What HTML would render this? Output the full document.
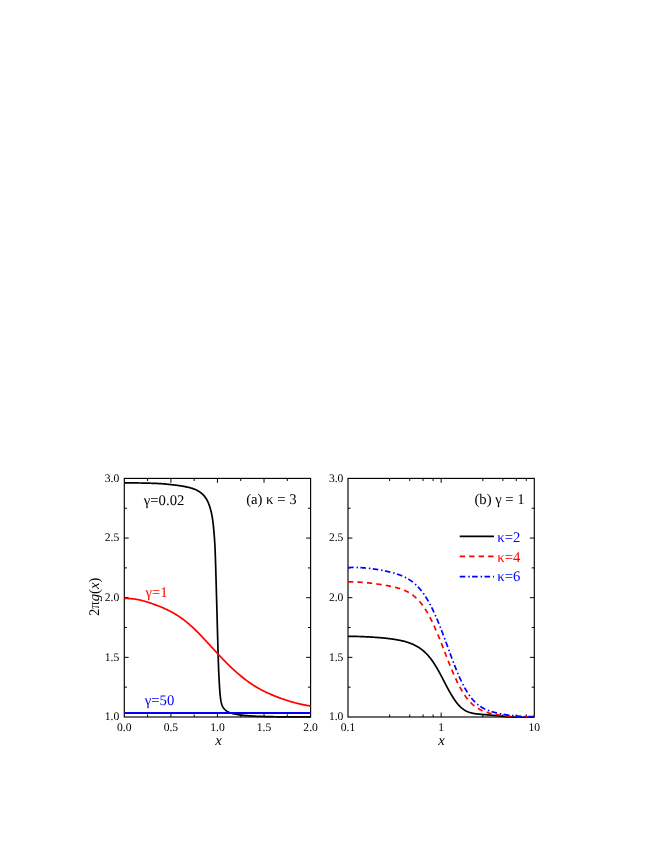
<!DOCTYPE html>
<html><head><meta charset="utf-8"><title>figure</title>
<style>
html,body{margin:0;padding:0;background:#fff;}
body{width:664px;height:860px;overflow:hidden;font-family:"Liberation Serif",serif;}
svg{display:block;will-change:transform;}
</style></head><body>
<svg width="664" height="860" viewBox="0 0 664 860">
<rect width="664" height="860" fill="#fff"/>
<defs><clipPath id="ca"><rect x="124.3" y="478.4" width="186.9" height="239.6"/></clipPath><clipPath id="cb"><rect x="348" y="478.4" width="186.9" height="239.6"/></clipPath></defs>
<g stroke="#000" fill="none" stroke-linecap="butt">
<rect x="124.3" y="478.4" width="186.3" height="238.6" stroke-width="1.15"/>
<line x1="124.3" y1="687.17" x2="126.9" y2="687.17" stroke-width="1.0"/>
<line x1="310.6" y1="687.17" x2="308" y2="687.17" stroke-width="1.0"/>
<line x1="124.3" y1="657.35" x2="128.7" y2="657.35" stroke-width="1.0"/>
<line x1="310.6" y1="657.35" x2="306.2" y2="657.35" stroke-width="1.0"/>
<line x1="124.3" y1="627.52" x2="126.9" y2="627.52" stroke-width="1.0"/>
<line x1="310.6" y1="627.52" x2="308" y2="627.52" stroke-width="1.0"/>
<line x1="124.3" y1="597.7" x2="128.7" y2="597.7" stroke-width="1.0"/>
<line x1="310.6" y1="597.7" x2="306.2" y2="597.7" stroke-width="1.0"/>
<line x1="124.3" y1="567.88" x2="126.9" y2="567.88" stroke-width="1.0"/>
<line x1="310.6" y1="567.88" x2="308" y2="567.88" stroke-width="1.0"/>
<line x1="124.3" y1="538.05" x2="128.7" y2="538.05" stroke-width="1.0"/>
<line x1="310.6" y1="538.05" x2="306.2" y2="538.05" stroke-width="1.0"/>
<line x1="124.3" y1="508.22" x2="126.9" y2="508.22" stroke-width="1.0"/>
<line x1="310.6" y1="508.22" x2="308" y2="508.22" stroke-width="1.0"/>
<rect x="348" y="478.4" width="186.3" height="238.6" stroke-width="1.15"/>
<line x1="348" y1="687.17" x2="350.6" y2="687.17" stroke-width="1.0"/>
<line x1="534.3" y1="687.17" x2="531.7" y2="687.17" stroke-width="1.0"/>
<line x1="348" y1="657.35" x2="352.4" y2="657.35" stroke-width="1.0"/>
<line x1="534.3" y1="657.35" x2="529.9" y2="657.35" stroke-width="1.0"/>
<line x1="348" y1="627.52" x2="350.6" y2="627.52" stroke-width="1.0"/>
<line x1="534.3" y1="627.52" x2="531.7" y2="627.52" stroke-width="1.0"/>
<line x1="348" y1="597.7" x2="352.4" y2="597.7" stroke-width="1.0"/>
<line x1="534.3" y1="597.7" x2="529.9" y2="597.7" stroke-width="1.0"/>
<line x1="348" y1="567.88" x2="350.6" y2="567.88" stroke-width="1.0"/>
<line x1="534.3" y1="567.88" x2="531.7" y2="567.88" stroke-width="1.0"/>
<line x1="348" y1="538.05" x2="352.4" y2="538.05" stroke-width="1.0"/>
<line x1="534.3" y1="538.05" x2="529.9" y2="538.05" stroke-width="1.0"/>
<line x1="348" y1="508.22" x2="350.6" y2="508.22" stroke-width="1.0"/>
<line x1="534.3" y1="508.22" x2="531.7" y2="508.22" stroke-width="1.0"/>
<line x1="147.59" y1="717" x2="147.59" y2="714.4" stroke-width="1.0"/>
<line x1="147.59" y1="478.4" x2="147.59" y2="481" stroke-width="1.0"/>
<line x1="170.88" y1="717" x2="170.88" y2="712.6" stroke-width="1.0"/>
<line x1="170.88" y1="478.4" x2="170.88" y2="482.8" stroke-width="1.0"/>
<line x1="194.16" y1="717" x2="194.16" y2="714.4" stroke-width="1.0"/>
<line x1="194.16" y1="478.4" x2="194.16" y2="481" stroke-width="1.0"/>
<line x1="217.45" y1="717" x2="217.45" y2="712.6" stroke-width="1.0"/>
<line x1="217.45" y1="478.4" x2="217.45" y2="482.8" stroke-width="1.0"/>
<line x1="240.74" y1="717" x2="240.74" y2="714.4" stroke-width="1.0"/>
<line x1="240.74" y1="478.4" x2="240.74" y2="481" stroke-width="1.0"/>
<line x1="264.03" y1="717" x2="264.03" y2="712.6" stroke-width="1.0"/>
<line x1="264.03" y1="478.4" x2="264.03" y2="482.8" stroke-width="1.0"/>
<line x1="287.31" y1="717" x2="287.31" y2="714.4" stroke-width="1.0"/>
<line x1="287.31" y1="478.4" x2="287.31" y2="481" stroke-width="1.0"/>
<line x1="389.65" y1="717" x2="389.65" y2="714.4" stroke-width="1.0"/>
<line x1="389.65" y1="478.4" x2="389.65" y2="481" stroke-width="1.0"/>
<line x1="409.74" y1="717" x2="409.74" y2="714.4" stroke-width="1.0"/>
<line x1="409.74" y1="478.4" x2="409.74" y2="481" stroke-width="1.0"/>
<line x1="423.1" y1="717" x2="423.1" y2="714.4" stroke-width="1.0"/>
<line x1="423.1" y1="478.4" x2="423.1" y2="481" stroke-width="1.0"/>
<line x1="433.12" y1="717" x2="433.12" y2="714.4" stroke-width="1.0"/>
<line x1="433.12" y1="478.4" x2="433.12" y2="481" stroke-width="1.0"/>
<line x1="482.8" y1="717" x2="482.8" y2="714.4" stroke-width="1.0"/>
<line x1="482.8" y1="478.4" x2="482.8" y2="481" stroke-width="1.0"/>
<line x1="502.89" y1="717" x2="502.89" y2="714.4" stroke-width="1.0"/>
<line x1="502.89" y1="478.4" x2="502.89" y2="481" stroke-width="1.0"/>
<line x1="516.25" y1="717" x2="516.25" y2="714.4" stroke-width="1.0"/>
<line x1="516.25" y1="478.4" x2="516.25" y2="481" stroke-width="1.0"/>
<line x1="526.27" y1="717" x2="526.27" y2="714.4" stroke-width="1.0"/>
<line x1="526.27" y1="478.4" x2="526.27" y2="481" stroke-width="1.0"/>
<line x1="441.15" y1="717" x2="441.15" y2="712.6" stroke-width="1.0"/>
<line x1="441.15" y1="478.4" x2="441.15" y2="482.8" stroke-width="1.0"/>
</g>
<g fill="none" stroke-width="1.7" stroke-linejoin="round" clip-path="url(#ca)">
<path d="M124.3 482.8 L124.94 482.8 L125.59 482.81 L126.23 482.81 L126.88 482.81 L127.52 482.82 L128.17 482.82 L128.81 482.83 L129.46 482.84 L130.1 482.84 L130.75 482.85 L131.39 482.86 L132.04 482.87 L132.68 482.88 L133.33 482.89 L133.97 482.9 L134.61 482.91 L135.26 482.92 L135.9 482.93 L136.55 482.94 L137.19 482.95 L137.84 482.96 L138.48 482.97 L139.13 482.98 L139.77 483 L140.42 483.01 L141.06 483.02 L141.7 483.03 L142.35 483.05 L142.99 483.06 L143.64 483.07 L144.28 483.09 L144.93 483.1 L145.57 483.11 L146.22 483.13 L146.86 483.14 L147.5 483.16 L148.15 483.17 L148.79 483.19 L149.44 483.2 L150.08 483.22 L150.73 483.24 L151.37 483.26 L152.02 483.28 L152.66 483.3 L153.31 483.32 L153.95 483.34 L154.6 483.37 L155.24 483.39 L155.88 483.42 L156.53 483.44 L157.17 483.47 L157.82 483.5 L158.46 483.53 L159.1 483.56 L159.75 483.59 L160.39 483.62 L161.03 483.66 L161.67 483.7 L162.32 483.75 L162.96 483.8 L163.6 483.85 L164.24 483.91 L164.89 483.97 L165.53 484.03 L166.17 484.1 L166.81 484.17 L167.45 484.24 L168.1 484.31 L168.74 484.38 L169.38 484.45 L170.02 484.52 L170.66 484.59 L171.3 484.66 L171.94 484.73 L172.58 484.81 L173.22 484.88 L173.86 484.95 L174.51 485.03 L175.15 485.11 L175.79 485.19 L176.43 485.27 L177.07 485.35 L177.71 485.44 L178.35 485.52 L178.99 485.61 L179.63 485.7 L180.27 485.8 L180.91 485.9 L181.54 486 L182.18 486.1 L182.81 486.21 L183.45 486.31 L184.08 486.43 L184.71 486.54 L185.34 486.67 L185.97 486.79 L186.6 486.92 L187.23 487.06 L187.87 487.21 L188.5 487.36 L189.13 487.52 L189.76 487.69 L190.39 487.86 L191.02 488.04 L191.64 488.23 L192.25 488.42 L192.87 488.62 L193.47 488.83 L194.07 489.05 L194.66 489.27 L195.25 489.5 L195.83 489.75 L196.42 490.03 L197 490.32 L197.58 490.63 L198.15 490.96 L198.71 491.3 L199.26 491.65 L199.8 492.02 L200.33 492.39 L200.84 492.77 L201.33 493.16 L201.81 493.57 L202.29 493.99 L202.76 494.44 L203.22 494.9 L203.68 495.38 L204.12 495.87 L204.55 496.38 L204.96 496.89 L205.35 497.41 L205.72 497.93 L206.07 498.46 L206.4 498.99 L206.71 499.54 L207.01 500.09 L207.31 500.66 L207.6 501.24 L207.87 501.82 L208.14 502.42 L208.4 503.02 L208.65 503.63 L208.89 504.24 L209.12 504.85 L209.34 505.47 L209.55 506.08 L209.75 506.7 L209.94 507.31 L210.12 507.92 L210.3 508.53 L210.47 509.15 L210.64 509.77 L210.8 510.4 L210.96 511.02 L211.12 511.65 L211.27 512.28 L211.41 512.91 L211.55 513.54 L211.68 514.18 L211.81 514.81 L211.94 515.45 L212.06 516.09 L212.17 516.72 L212.28 517.36 L212.38 517.99 L212.48 518.63 L212.58 519.27 L212.67 519.9 L212.75 520.54 L212.84 521.18 L212.92 521.81 L213 522.45 L213.08 523.09 L213.15 523.73 L213.23 524.38 L213.3 525.02 L213.37 525.66 L213.43 526.3 L213.5 526.94 L213.56 527.59 L213.62 528.23 L213.68 528.87 L213.74 529.52 L213.8 530.16 L213.86 530.8 L213.91 531.44 L213.97 532.09 L214.02 532.73 L214.07 533.37 L214.12 534.01 L214.17 534.65 L214.22 535.3 L214.27 535.94 L214.32 536.58 L214.37 537.23 L214.42 537.87 L214.46 538.51 L214.51 539.16 L214.55 539.8 L214.6 540.44 L214.64 541.09 L214.68 541.73 L214.72 542.37 L214.76 543.02 L214.8 543.66 L214.83 544.3 L214.87 544.95 L214.9 545.59 L214.94 546.23 L214.97 546.88 L215 547.52 L215.03 548.17 L215.06 548.81 L215.09 549.45 L215.12 550.1 L215.14 550.74 L215.17 551.39 L215.19 552.03 L215.22 552.67 L215.24 553.32 L215.26 553.96 L215.28 554.61 L215.31 555.25 L215.33 555.9 L215.35 556.54 L215.37 557.18 L215.39 557.83 L215.42 558.47 L215.44 559.12 L215.46 559.76 L215.48 560.41 L215.5 561.05 L215.52 561.69 L215.54 562.34 L215.56 562.98 L215.58 563.63 L215.6 564.27 L215.63 564.92 L215.65 565.56 L215.67 566.21 L215.69 566.85 L215.7 567.49 L215.72 568.14 L215.74 568.78 L215.76 569.43 L215.78 570.07 L215.8 570.72 L215.82 571.36 L215.84 572 L215.86 572.65 L215.88 573.29 L215.9 573.94 L215.91 574.58 L215.93 575.23 L215.95 575.87 L215.97 576.51 L215.99 577.16 L216.01 577.8 L216.02 578.45 L216.04 579.09 L216.06 579.74 L216.08 580.38 L216.1 581.03 L216.11 581.67 L216.13 582.31 L216.15 582.96 L216.17 583.6 L216.19 584.25 L216.2 584.89 L216.22 585.54 L216.24 586.18 L216.26 586.83 L216.28 587.47 L216.29 588.11 L216.31 588.76 L216.33 589.4 L216.35 590.05 L216.36 590.69 L216.38 591.34 L216.4 591.98 L216.42 592.63 L216.44 593.27 L216.46 593.91 L216.47 594.56 L216.49 595.2 L216.51 595.85 L216.53 596.49 L216.55 597.14 L216.56 597.78 L216.58 598.42 L216.6 599.07 L216.62 599.71 L216.64 600.36 L216.65 601 L216.67 601.65 L216.69 602.29 L216.71 602.94 L216.73 603.58 L216.74 604.22 L216.76 604.87 L216.78 605.51 L216.8 606.16 L216.81 606.8 L216.83 607.45 L216.85 608.09 L216.87 608.73 L216.88 609.38 L216.9 610.02 L216.92 610.67 L216.94 611.31 L216.95 611.96 L216.97 612.6 L216.99 613.25 L217.01 613.89 L217.02 614.53 L217.04 615.18 L217.06 615.82 L217.07 616.47 L217.09 617.11 L217.11 617.76 L217.13 618.4 L217.14 619.05 L217.16 619.69 L217.18 620.33 L217.2 620.98 L217.21 621.62 L217.23 622.27 L217.25 622.91 L217.27 623.56 L217.28 624.2 L217.3 624.85 L217.32 625.49 L217.34 626.13 L217.35 626.78 L217.37 627.42 L217.39 628.07 L217.41 628.71 L217.42 629.36 L217.44 630 L217.46 630.64 L217.48 631.29 L217.49 631.93 L217.51 632.58 L217.53 633.22 L217.55 633.87 L217.57 634.51 L217.58 635.16 L217.6 635.8 L217.62 636.44 L217.64 637.09 L217.66 637.73 L217.67 638.38 L217.69 639.02 L217.71 639.67 L217.73 640.31 L217.75 640.96 L217.77 641.6 L217.79 642.24 L217.8 642.89 L217.82 643.53 L217.84 644.18 L217.86 644.82 L217.88 645.47 L217.89 646.11 L217.91 646.75 L217.93 647.4 L217.95 648.04 L217.96 648.69 L217.98 649.33 L218 649.98 L218.02 650.62 L218.04 651.27 L218.05 651.91 L218.07 652.55 L218.09 653.2 L218.11 653.84 L218.13 654.49 L218.15 655.13 L218.16 655.78 L218.18 656.42 L218.2 657.07 L218.22 657.71 L218.24 658.35 L218.26 659 L218.28 659.64 L218.3 660.29 L218.32 660.93 L218.34 661.58 L218.37 662.22 L218.39 662.86 L218.41 663.51 L218.43 664.15 L218.46 664.8 L218.48 665.44 L218.5 666.09 L218.53 666.73 L218.55 667.37 L218.58 668.02 L218.6 668.66 L218.63 669.31 L218.65 669.95 L218.68 670.59 L218.71 671.24 L218.74 671.88 L218.76 672.53 L218.79 673.17 L218.82 673.81 L218.85 674.46 L218.88 675.1 L218.91 675.75 L218.94 676.39 L218.97 677.03 L219.01 677.68 L219.04 678.32 L219.07 678.97 L219.11 679.61 L219.14 680.25 L219.18 680.9 L219.21 681.54 L219.25 682.18 L219.29 682.83 L219.32 683.47 L219.36 684.12 L219.4 684.76 L219.44 685.4 L219.48 686.05 L219.52 686.69 L219.56 687.33 L219.6 687.98 L219.64 688.62 L219.69 689.27 L219.73 689.91 L219.78 690.56 L219.83 691.2 L219.88 691.84 L219.93 692.49 L219.98 693.13 L220.04 693.77 L220.1 694.41 L220.16 695.05 L220.23 695.69 L220.29 696.33 L220.37 696.97 L220.44 697.61 L220.53 698.25 L220.62 698.89 L220.72 699.54 L220.82 700.19 L220.94 700.83 L221.06 701.47 L221.2 702.11 L221.34 702.74 L221.5 703.36 L221.67 703.97 L221.84 704.57 L222.04 705.16 L222.28 705.76 L222.57 706.36 L222.88 706.95 L223.22 707.52 L223.59 708.07 L223.97 708.58 L224.37 709.06 L224.78 709.51 L225.24 709.95 L225.74 710.38 L226.26 710.79 L226.81 711.17 L227.37 711.53 L227.94 711.85 L228.51 712.14 L229.08 712.39 L229.67 712.63 L230.26 712.85 L230.88 713.06 L231.5 713.25 L232.13 713.43 L232.76 713.6 L233.4 713.76 L234.03 713.9 L234.67 714.03 L235.3 714.16 L235.93 714.27 L236.56 714.38 L237.19 714.49 L237.83 714.6 L238.46 714.7 L239.1 714.79 L239.74 714.88 L240.38 714.97 L241.02 715.05 L241.67 715.13 L242.31 715.21 L242.95 715.28 L243.59 715.35 L244.24 715.42 L244.88 715.48 L245.52 715.54 L246.16 715.59 L246.8 715.65 L247.45 715.7 L248.09 715.75 L248.73 715.79 L249.37 715.84 L250.02 715.89 L250.66 715.93 L251.3 715.97 L251.95 716.02 L252.59 716.06 L253.23 716.09 L253.88 716.13 L254.52 716.17 L255.17 716.2 L255.81 716.23 L256.46 716.26 L257.1 716.29 L257.74 716.32 L258.39 716.34 L259.03 716.37 L259.68 716.39 L260.32 716.41 L260.97 716.43 L261.61 716.45 L262.25 716.47 L262.9 716.49 L263.54 716.5 L264.19 716.52 L264.83 716.54 L265.48 716.56 L266.12 716.57 L266.76 716.59 L267.41 716.6 L268.05 716.62 L268.7 716.63 L269.34 716.65 L269.99 716.66 L270.63 716.67 L271.28 716.69 L271.92 716.7 L272.57 716.71 L273.21 716.72 L273.86 716.73 L274.5 716.74 L275.14 716.75 L275.79 716.76 L276.43 716.77 L277.08 716.78 L277.72 716.78 L278.37 716.79 L279.01 716.79 L279.66 716.8 L280.3 716.8 L280.95 716.81 L281.59 716.81 L282.24 716.81 L282.88 716.82 L283.52 716.82 L284.17 716.82 L284.81 716.83 L285.46 716.83 L286.1 716.83 L286.75 716.84 L287.39 716.84 L288.04 716.84 L288.68 716.85 L289.33 716.85 L289.97 716.85 L290.62 716.85 L291.26 716.86 L291.9 716.86 L292.55 716.86 L293.19 716.86 L293.84 716.87 L294.48 716.87 L295.13 716.87 L295.77 716.87 L296.42 716.88 L297.06 716.88 L297.71 716.88 L298.35 716.88 L299 716.88 L299.64 716.89 L300.28 716.89 L300.93 716.89 L301.57 716.89 L302.22 716.89 L302.86 716.89 L303.51 716.89 L304.15 716.89 L304.8 716.9 L305.44 716.9 L306.09 716.9 L306.73 716.9 L307.38 716.9 L308.02 716.9 L308.67 716.9 L309.31 716.9 L309.96 716.9 L310.6 716.9" stroke="#000"/>
<path d="M124.3 598.58 L124.92 598.55 L125.55 598.52 L126.17 598.51 L126.79 598.5 L127.42 598.5 L128.04 598.51 L128.66 598.53 L129.28 598.55 L129.91 598.59 L130.53 598.62 L131.15 598.67 L131.78 598.72 L132.4 598.79 L133.02 598.85 L133.65 598.93 L134.27 599.01 L134.89 599.1 L135.52 599.19 L136.14 599.29 L136.76 599.4 L137.38 599.51 L138.01 599.63 L138.63 599.76 L139.25 599.89 L139.88 600.03 L140.5 600.17 L141.12 600.32 L141.75 600.47 L142.37 600.63 L142.99 600.79 L143.62 600.96 L144.24 601.13 L144.86 601.31 L145.48 601.49 L146.11 601.68 L146.73 601.87 L147.35 602.06 L147.98 602.26 L148.6 602.46 L149.22 602.67 L149.85 602.88 L150.47 603.09 L151.09 603.3 L151.72 603.52 L152.34 603.74 L152.96 603.96 L153.58 604.19 L154.21 604.41 L154.83 604.64 L155.45 604.87 L156.08 605.11 L156.7 605.34 L157.32 605.58 L157.95 605.82 L158.57 606.06 L159.19 606.3 L159.82 606.55 L160.44 606.8 L161.06 607.05 L161.68 607.31 L162.31 607.57 L162.93 607.83 L163.55 608.1 L164.18 608.37 L164.8 608.65 L165.42 608.93 L166.05 609.22 L166.67 609.51 L167.29 609.81 L167.92 610.11 L168.54 610.41 L169.16 610.73 L169.78 611.04 L170.41 611.37 L171.03 611.7 L171.65 612.03 L172.28 612.37 L172.9 612.72 L173.52 613.08 L174.15 613.44 L174.77 613.8 L175.39 614.18 L176.02 614.56 L176.64 614.94 L177.26 615.34 L177.88 615.74 L178.51 616.15 L179.13 616.56 L179.75 616.98 L180.38 617.41 L181 617.85 L181.62 618.29 L182.25 618.74 L182.87 619.2 L183.49 619.67 L184.12 620.14 L184.74 620.62 L185.36 621.11 L185.98 621.61 L186.61 622.11 L187.23 622.62 L187.85 623.14 L188.48 623.66 L189.1 624.19 L189.72 624.74 L190.35 625.28 L190.97 625.84 L191.59 626.4 L192.22 626.97 L192.84 627.55 L193.46 628.13 L194.08 628.72 L194.71 629.32 L195.33 629.92 L195.95 630.53 L196.58 631.15 L197.2 631.77 L197.82 632.39 L198.45 633.02 L199.07 633.66 L199.69 634.3 L200.32 634.94 L200.94 635.59 L201.56 636.24 L202.18 636.89 L202.81 637.55 L203.43 638.21 L204.05 638.88 L204.68 639.54 L205.3 640.21 L205.92 640.88 L206.55 641.56 L207.17 642.23 L207.79 642.91 L208.42 643.59 L209.04 644.26 L209.66 644.94 L210.28 645.62 L210.91 646.3 L211.53 646.98 L212.15 647.66 L212.78 648.34 L213.4 649.02 L214.02 649.7 L214.65 650.38 L215.27 651.06 L215.89 651.73 L216.52 652.41 L217.14 653.08 L217.76 653.75 L218.38 654.42 L219.01 655.09 L219.63 655.75 L220.25 656.41 L220.88 657.07 L221.5 657.73 L222.12 658.38 L222.75 659.03 L223.37 659.68 L223.99 660.32 L224.62 660.96 L225.24 661.6 L225.86 662.23 L226.48 662.85 L227.11 663.48 L227.73 664.1 L228.35 664.71 L228.98 665.32 L229.6 665.93 L230.22 666.53 L230.85 667.13 L231.47 667.72 L232.09 668.31 L232.72 668.89 L233.34 669.47 L233.96 670.04 L234.58 670.61 L235.21 671.17 L235.83 671.73 L236.45 672.28 L237.08 672.83 L237.7 673.37 L238.32 673.91 L238.95 674.44 L239.57 674.97 L240.19 675.49 L240.82 676 L241.44 676.51 L242.06 677.02 L242.68 677.52 L243.31 678.01 L243.93 678.5 L244.55 678.98 L245.18 679.46 L245.8 679.93 L246.42 680.39 L247.05 680.85 L247.67 681.31 L248.29 681.76 L248.92 682.2 L249.54 682.64 L250.16 683.07 L250.78 683.5 L251.41 683.92 L252.03 684.33 L252.65 684.74 L253.28 685.14 L253.9 685.54 L254.52 685.93 L255.15 686.32 L255.77 686.7 L256.39 687.07 L257.02 687.44 L257.64 687.81 L258.26 688.17 L258.88 688.52 L259.51 688.87 L260.13 689.21 L260.75 689.55 L261.38 689.89 L262 690.21 L262.62 690.54 L263.25 690.86 L263.87 691.17 L264.49 691.48 L265.12 691.79 L265.74 692.09 L266.36 692.39 L266.98 692.68 L267.61 692.97 L268.23 693.26 L268.85 693.54 L269.48 693.82 L270.1 694.09 L270.72 694.36 L271.35 694.63 L271.97 694.89 L272.59 695.15 L273.22 695.41 L273.84 695.66 L274.46 695.92 L275.08 696.16 L275.71 696.41 L276.33 696.65 L276.95 696.89 L277.58 697.13 L278.2 697.36 L278.82 697.6 L279.45 697.83 L280.07 698.05 L280.69 698.28 L281.32 698.5 L281.94 698.72 L282.56 698.94 L283.18 699.16 L283.81 699.37 L284.43 699.58 L285.05 699.79 L285.68 700 L286.3 700.21 L286.92 700.41 L287.55 700.61 L288.17 700.8 L288.79 701 L289.42 701.19 L290.04 701.38 L290.66 701.57 L291.28 701.75 L291.91 701.93 L292.53 702.11 L293.15 702.29 L293.78 702.46 L294.4 702.63 L295.02 702.8 L295.65 702.96 L296.27 703.12 L296.89 703.28 L297.52 703.44 L298.14 703.59 L298.76 703.74 L299.38 703.89 L300.01 704.03 L300.63 704.17 L301.25 704.31 L301.88 704.44 L302.5 704.57 L303.12 704.7 L303.75 704.83 L304.37 704.95 L304.99 705.07 L305.62 705.18 L306.24 705.29 L306.86 705.4 L307.48 705.5 L308.11 705.6 L308.73 705.7 L309.35 705.79 L309.98 705.89 L310.6 705.97" stroke="#ff0000"/>
<path d="M124.3 713.0 L310.6 713.0" stroke="#0000ff" stroke-width="1.9"/>
</g>
<g fill="none" stroke-width="1.7" stroke-linejoin="round" clip-path="url(#cb)">
<path d="M348 636.31 L348.47 636.31 L348.93 636.32 L349.4 636.32 L349.87 636.33 L350.33 636.33 L350.8 636.34 L351.27 636.34 L351.74 636.35 L352.2 636.35 L352.67 636.36 L353.14 636.37 L353.6 636.38 L354.07 636.39 L354.54 636.4 L355 636.41 L355.47 636.42 L355.94 636.43 L356.4 636.44 L356.87 636.45 L357.34 636.47 L357.81 636.48 L358.27 636.49 L358.74 636.51 L359.21 636.52 L359.67 636.54 L360.14 636.55 L360.61 636.57 L361.07 636.59 L361.54 636.6 L362.01 636.62 L362.47 636.64 L362.94 636.66 L363.41 636.68 L363.88 636.7 L364.34 636.72 L364.81 636.74 L365.28 636.76 L365.74 636.78 L366.21 636.81 L366.68 636.83 L367.14 636.85 L367.61 636.87 L368.08 636.9 L368.54 636.92 L369.01 636.95 L369.48 636.97 L369.95 637 L370.41 637.03 L370.88 637.05 L371.35 637.08 L371.81 637.11 L372.28 637.14 L372.75 637.17 L373.21 637.2 L373.68 637.23 L374.15 637.26 L374.61 637.29 L375.08 637.32 L375.55 637.36 L376.02 637.39 L376.48 637.42 L376.95 637.46 L377.42 637.49 L377.88 637.53 L378.35 637.57 L378.82 637.6 L379.28 637.64 L379.75 637.68 L380.22 637.72 L380.68 637.76 L381.15 637.8 L381.62 637.84 L382.08 637.88 L382.55 637.93 L383.02 637.97 L383.49 638.01 L383.95 638.06 L384.42 638.11 L384.89 638.15 L385.35 638.2 L385.82 638.25 L386.29 638.3 L386.75 638.35 L387.22 638.4 L387.69 638.46 L388.15 638.51 L388.62 638.57 L389.09 638.63 L389.56 638.68 L390.02 638.74 L390.49 638.8 L390.96 638.86 L391.42 638.93 L391.89 638.99 L392.36 639.06 L392.82 639.12 L393.29 639.19 L393.76 639.26 L394.22 639.34 L394.69 639.41 L395.16 639.48 L395.63 639.56 L396.09 639.64 L396.56 639.72 L397.03 639.8 L397.49 639.88 L397.96 639.97 L398.43 640.06 L398.89 640.15 L399.36 640.24 L399.83 640.33 L400.29 640.43 L400.76 640.53 L401.23 640.63 L401.7 640.73 L402.16 640.84 L402.63 640.95 L403.1 641.06 L403.56 641.18 L404.03 641.3 L404.5 641.42 L404.96 641.54 L405.43 641.67 L405.9 641.8 L406.36 641.94 L406.83 642.08 L407.3 642.22 L407.77 642.37 L408.23 642.52 L408.7 642.68 L409.17 642.84 L409.63 643 L410.1 643.18 L410.57 643.35 L411.03 643.53 L411.5 643.72 L411.97 643.91 L412.43 644.11 L412.9 644.31 L413.37 644.52 L413.84 644.74 L414.3 644.96 L414.77 645.19 L415.24 645.43 L415.7 645.67 L416.17 645.92 L416.64 646.18 L417.1 646.44 L417.57 646.72 L418.04 647 L418.5 647.29 L418.97 647.59 L419.44 647.89 L419.91 648.21 L420.37 648.53 L420.84 648.87 L421.31 649.21 L421.77 649.57 L422.24 649.93 L422.71 650.31 L423.17 650.69 L423.64 651.09 L424.11 651.5 L424.57 651.92 L425.04 652.35 L425.51 652.8 L425.98 653.26 L426.44 653.73 L426.91 654.22 L427.38 654.71 L427.84 655.23 L428.31 655.76 L428.78 656.3 L429.24 656.85 L429.71 657.42 L430.18 658.01 L430.64 658.61 L431.11 659.22 L431.58 659.85 L432.05 660.5 L432.51 661.15 L432.98 661.83 L433.45 662.52 L433.91 663.22 L434.38 663.94 L434.85 664.67 L435.31 665.41 L435.78 666.17 L436.25 666.94 L436.71 667.73 L437.18 668.53 L437.65 669.34 L438.12 670.16 L438.58 671 L439.05 671.84 L439.52 672.69 L439.98 673.56 L440.45 674.43 L440.92 675.31 L441.38 676.19 L441.85 677.08 L442.32 677.97 L442.78 678.87 L443.25 679.77 L443.72 680.67 L444.18 681.57 L444.65 682.47 L445.12 683.37 L445.59 684.27 L446.05 685.16 L446.52 686.05 L446.99 686.93 L447.45 687.81 L447.92 688.68 L448.39 689.54 L448.85 690.4 L449.32 691.24 L449.79 692.07 L450.25 692.89 L450.72 693.7 L451.19 694.5 L451.66 695.28 L452.12 696.05 L452.59 696.81 L453.06 697.55 L453.52 698.27 L453.99 698.98 L454.46 699.67 L454.92 700.34 L455.39 701 L455.86 701.63 L456.32 702.25 L456.79 702.85 L457.26 703.43 L457.73 703.99 L458.19 704.54 L458.66 705.06 L459.13 705.56 L459.59 706.04 L460.06 706.51 L460.53 706.95 L460.99 707.38 L461.46 707.79 L461.93 708.18 L462.39 708.56 L462.86 708.91 L463.33 709.25 L463.8 709.58 L464.26 709.89 L464.73 710.18 L465.2 710.46 L465.66 710.72 L466.13 710.97 L466.6 711.21 L467.06 711.43 L467.53 711.64 L468 711.84 L468.46 712.03 L468.93 712.2 L469.4 712.37 L469.87 712.52 L470.33 712.67 L470.8 712.8 L471.27 712.93 L471.73 713.05 L472.2 713.16 L472.67 713.26 L473.13 713.36 L473.6 713.45 L474.07 713.54 L474.53 713.61 L475 713.69 L475.47 713.76 L475.94 713.82 L476.4 713.88 L476.87 713.94 L477.34 713.99 L477.8 714.04 L478.27 714.09 L478.74 714.13 L479.2 714.18 L479.67 714.22 L480.14 714.26 L480.6 714.3 L481.07 714.34 L481.54 714.38 L482.01 714.42 L482.47 714.45 L482.94 714.49 L483.41 714.53 L483.87 714.57 L484.34 714.61 L484.81 714.64 L485.27 714.68 L485.74 714.72 L486.21 714.76 L486.67 714.79 L487.14 714.83 L487.61 714.87 L488.08 714.91 L488.54 714.95 L489.01 714.99 L489.48 715.03 L489.94 715.07 L490.41 715.11 L490.88 715.15 L491.34 715.19 L491.81 715.23 L492.28 715.28 L492.74 715.32 L493.21 715.36 L493.68 715.41 L494.15 715.45 L494.61 715.49 L495.08 715.54 L495.55 715.58 L496.01 715.63 L496.48 715.68 L496.95 715.72 L497.41 715.77 L497.88 715.82 L498.35 715.86 L498.81 715.91 L499.28 715.96 L499.75 716.01 L500.22 716.05 L500.68 716.1 L501.15 716.15 L501.62 716.2 L502.08 716.25 L502.55 716.29 L503.02 716.34 L503.48 716.39 L503.95 716.44 L504.42 716.48 L504.88 716.53 L505.35 716.58 L505.82 716.62 L506.28 716.67 L506.75 716.71 L507.22 716.76 L507.69 716.8 L508.15 716.85 L508.62 716.89 L509.09 716.93 L509.55 716.98 L510.02 717.02 L510.49 717.06 L510.95 717.1 L511.42 717.13 L511.89 717.17 L512.35 717.21 L512.82 717.24 L513.29 717.28 L513.76 717.31 L514.22 717.34 L514.69 717.37 L515.16 717.4 L515.62 717.43 L516.09 717.45 L516.56 717.48 L517.02 717.5 L517.49 717.52 L517.96 717.54 L518.42 717.56 L518.89 717.58 L519.36 717.59 L519.83 717.61 L520.29 717.62 L520.76 717.62 L521.23 717.63 L521.69 717.64 L522.16 717.64 L522.63 717.64 L523.09 717.64 L523.56 717.63 L524.03 717.63 L524.49 717.62 L524.96 717.6 L525.43 717.59 L525.9 717.57 L526.36 717.55 L526.83 717.53 L527.3 717.51 L527.76 717.48 L528.23 717.45 L528.7 717.41 L529.16 717.38 L529.63 717.34 L530.1 717.3 L530.56 717.25 L531.03 717.2 L531.5 717.15 L531.97 717.09 L532.43 717.03 L532.9 716.97 L533.37 716.91 L533.83 716.84 L534.3 716.76" stroke="#000"/>
<path d="M348 581.93 L348.37 581.92 L348.75 581.91 L349.12 581.9 L349.49 581.9 L349.87 581.89 L350.24 581.89 L350.61 581.89 L350.99 581.88 L351.36 581.88 L351.73 581.89 L352.11 581.89 L352.48 581.89 L352.85 581.9 L353.23 581.9 L353.6 581.91 L353.97 581.92 L354.35 581.93 L354.72 581.94 L355.09 581.95 L355.47 581.96 L355.84 581.97 L356.21 581.99 L356.59 582 L356.96 582.02 L357.33 582.04 L357.71 582.05 L358.08 582.07 L358.45 582.09 L358.83 582.11 L359.2 582.14 L359.57 582.16 L359.95 582.18 L360.32 582.21 L360.69 582.23 L361.07 582.26 L361.44 582.28 L361.81 582.31 L362.19 582.34 L362.56 582.37 L362.93 582.4 L363.31 582.43 L363.68 582.46 L364.05 582.49 L364.43 582.52 L364.8 582.56 L365.17 582.59 L365.55 582.63 L365.92 582.66 L366.29 582.7 L366.67 582.74 L367.04 582.77 L367.41 582.81 L367.79 582.85 L368.16 582.89 L368.53 582.93 L368.91 582.97 L369.28 583.01 L369.65 583.05 L370.03 583.1 L370.4 583.14 L370.77 583.18 L371.15 583.23 L371.52 583.27 L371.89 583.32 L372.27 583.36 L372.64 583.41 L373.01 583.46 L373.39 583.5 L373.76 583.55 L374.13 583.6 L374.51 583.65 L374.88 583.7 L375.25 583.75 L375.63 583.8 L376 583.85 L376.37 583.9 L376.75 583.95 L377.12 584.01 L377.49 584.06 L377.87 584.11 L378.24 584.17 L378.61 584.22 L378.99 584.28 L379.36 584.33 L379.73 584.39 L380.11 584.45 L380.48 584.5 L380.85 584.56 L381.23 584.62 L381.6 584.68 L381.97 584.74 L382.35 584.8 L382.72 584.86 L383.09 584.92 L383.47 584.98 L383.84 585.05 L384.21 585.11 L384.59 585.17 L384.96 585.24 L385.33 585.3 L385.71 585.37 L386.08 585.44 L386.45 585.5 L386.83 585.57 L387.2 585.64 L387.57 585.71 L387.95 585.78 L388.32 585.85 L388.69 585.92 L389.07 585.99 L389.44 586.07 L389.81 586.14 L390.19 586.22 L390.56 586.29 L390.93 586.37 L391.31 586.45 L391.68 586.53 L392.05 586.61 L392.43 586.69 L392.8 586.77 L393.17 586.86 L393.55 586.94 L393.92 587.03 L394.29 587.11 L394.67 587.2 L395.04 587.29 L395.42 587.38 L395.79 587.48 L396.16 587.57 L396.54 587.67 L396.91 587.77 L397.28 587.87 L397.66 587.97 L398.03 588.08 L398.4 588.19 L398.78 588.3 L399.15 588.41 L399.52 588.52 L399.9 588.64 L400.27 588.76 L400.64 588.88 L401.02 589.01 L401.39 589.14 L401.76 589.27 L402.14 589.41 L402.51 589.55 L402.88 589.69 L403.26 589.83 L403.63 589.98 L404 590.14 L404.38 590.29 L404.75 590.45 L405.12 590.62 L405.5 590.79 L405.87 590.96 L406.24 591.14 L406.62 591.32 L406.99 591.51 L407.36 591.7 L407.74 591.9 L408.11 592.1 L408.48 592.31 L408.86 592.52 L409.23 592.74 L409.6 592.96 L409.98 593.19 L410.35 593.43 L410.72 593.67 L411.1 593.92 L411.47 594.17 L411.84 594.43 L412.22 594.7 L412.59 594.97 L412.96 595.25 L413.34 595.54 L413.71 595.83 L414.08 596.14 L414.46 596.44 L414.83 596.76 L415.2 597.09 L415.58 597.42 L415.95 597.76 L416.32 598.1 L416.7 598.46 L417.07 598.82 L417.44 599.2 L417.82 599.58 L418.19 599.97 L418.56 600.37 L418.94 600.78 L419.31 601.19 L419.68 601.62 L420.06 602.05 L420.43 602.5 L420.8 602.95 L421.18 603.42 L421.55 603.89 L421.92 604.38 L422.3 604.87 L422.67 605.37 L423.04 605.89 L423.42 606.41 L423.79 606.95 L424.16 607.49 L424.54 608.05 L424.91 608.62 L425.28 609.19 L425.66 609.78 L426.03 610.38 L426.4 610.99 L426.78 611.61 L427.15 612.24 L427.52 612.89 L427.9 613.54 L428.27 614.2 L428.64 614.87 L429.02 615.56 L429.39 616.25 L429.76 616.96 L430.14 617.68 L430.51 618.4 L430.88 619.14 L431.26 619.89 L431.63 620.64 L432 621.41 L432.38 622.19 L432.75 622.97 L433.12 623.77 L433.5 624.57 L433.87 625.39 L434.24 626.21 L434.62 627.04 L434.99 627.88 L435.36 628.73 L435.74 629.59 L436.11 630.45 L436.48 631.33 L436.86 632.21 L437.23 633.1 L437.6 633.99 L437.98 634.89 L438.35 635.8 L438.72 636.71 L439.1 637.63 L439.47 638.56 L439.84 639.49 L440.22 640.42 L440.59 641.36 L440.96 642.3 L441.34 643.25 L441.71 644.2 L442.08 645.16 L442.46 646.11 L442.83 647.07 L443.2 648.03 L443.58 648.99 L443.95 649.96 L444.32 650.92 L444.7 651.88 L445.07 652.85 L445.44 653.81 L445.82 654.78 L446.19 655.74 L446.56 656.7 L446.94 657.66 L447.31 658.61 L447.68 659.56 L448.06 660.51 L448.43 661.46 L448.8 662.4 L449.18 663.34 L449.55 664.28 L449.92 665.21 L450.3 666.13 L450.67 667.05 L451.04 667.96 L451.42 668.87 L451.79 669.76 L452.16 670.66 L452.54 671.54 L452.91 672.42 L453.28 673.29 L453.66 674.15 L454.03 675 L454.4 675.85 L454.78 676.69 L455.15 677.51 L455.52 678.33 L455.9 679.14 L456.27 679.94 L456.64 680.73 L457.02 681.5 L457.39 682.27 L457.76 683.03 L458.14 683.78 L458.51 684.52 L458.88 685.24 L459.26 685.96 L459.63 686.66 L460 687.35 L460.38 688.04 L460.75 688.71 L461.12 689.37 L461.5 690.02 L461.87 690.65 L462.24 691.28 L462.62 691.89 L462.99 692.5 L463.36 693.09 L463.74 693.67 L464.11 694.24 L464.48 694.8 L464.86 695.35 L465.23 695.88 L465.6 696.41 L465.98 696.92 L466.35 697.43 L466.72 697.92 L467.1 698.4 L467.47 698.88 L467.84 699.34 L468.22 699.79 L468.59 700.23 L468.96 700.66 L469.34 701.09 L469.71 701.5 L470.08 701.9 L470.46 702.29 L470.83 702.68 L471.2 703.05 L471.58 703.42 L471.95 703.78 L472.32 704.12 L472.7 704.46 L473.07 704.79 L473.44 705.12 L473.82 705.43 L474.19 705.74 L474.56 706.03 L474.94 706.32 L475.31 706.61 L475.68 706.88 L476.06 707.15 L476.43 707.41 L476.8 707.67 L477.18 707.91 L477.55 708.15 L477.92 708.39 L478.3 708.62 L478.67 708.84 L479.04 709.05 L479.42 709.26 L479.79 709.47 L480.16 709.67 L480.54 709.86 L480.91 710.05 L481.28 710.23 L481.66 710.41 L482.03 710.58 L482.4 710.75 L482.78 710.91 L483.15 711.07 L483.52 711.22 L483.9 711.37 L484.27 711.51 L484.64 711.66 L485.02 711.79 L485.39 711.93 L485.76 712.06 L486.14 712.18 L486.51 712.31 L486.88 712.43 L487.26 712.54 L487.63 712.65 L488.01 712.76 L488.38 712.87 L488.75 712.98 L489.13 713.08 L489.5 713.18 L489.87 713.27 L490.25 713.37 L490.62 713.46 L490.99 713.55 L491.37 713.63 L491.74 713.72 L492.11 713.8 L492.49 713.88 L492.86 713.96 L493.23 714.04 L493.61 714.11 L493.98 714.18 L494.35 714.26 L494.73 714.32 L495.1 714.39 L495.47 714.46 L495.85 714.52 L496.22 714.58 L496.59 714.65 L496.97 714.71 L497.34 714.76 L497.71 714.82 L498.09 714.88 L498.46 714.93 L498.83 714.98 L499.21 715.03 L499.58 715.09 L499.95 715.13 L500.33 715.18 L500.7 715.23 L501.07 715.28 L501.45 715.32 L501.82 715.36 L502.19 715.41 L502.57 715.45 L502.94 715.49 L503.31 715.53 L503.69 715.57 L504.06 715.61 L504.43 715.65 L504.81 715.68 L505.18 715.72 L505.55 715.75 L505.93 715.79 L506.3 715.82 L506.67 715.85 L507.05 715.89 L507.42 715.92 L507.79 715.95 L508.17 715.98 L508.54 716.01 L508.91 716.04 L509.29 716.06 L509.66 716.09 L510.03 716.12 L510.41 716.14 L510.78 716.17 L511.15 716.19 L511.53 716.22 L511.9 716.24 L512.27 716.26 L512.65 716.29 L513.02 716.31 L513.39 716.33 L513.77 716.35 L514.14 716.37 L514.51 716.39 L514.89 716.41 L515.26 716.43 L515.63 716.45 L516.01 716.46 L516.38 716.48 L516.75 716.5 L517.13 716.51 L517.5 716.53 L517.87 716.54 L518.25 716.56 L518.62 716.57 L518.99 716.59 L519.37 716.6 L519.74 716.61 L520.11 716.62 L520.49 716.63 L520.86 716.65 L521.23 716.66 L521.61 716.67 L521.98 716.67 L522.35 716.68 L522.73 716.69 L523.1 716.7 L523.47 716.71 L523.85 716.71 L524.22 716.72 L524.59 716.72 L524.97 716.73 L525.34 716.73 L525.71 716.74 L526.09 716.74 L526.46 716.74 L526.83 716.75 L527.21 716.75 L527.58 716.75 L527.95 716.75 L528.33 716.75 L528.7 716.75 L529.07 716.75 L529.45 716.75 L529.82 716.74 L530.19 716.74 L530.57 716.74 L530.94 716.73 L531.31 716.73 L531.69 716.72 L532.06 716.72 L532.43 716.71 L532.81 716.7 L533.18 716.69 L533.55 716.69 L533.93 716.68 L534.3 716.67" stroke="#ff0000" stroke-dasharray="5.3 4.2"/>
<path d="M348 567.61 L348.37 567.59 L348.75 567.57 L349.12 567.55 L349.49 567.54 L349.87 567.52 L350.24 567.51 L350.61 567.5 L350.99 567.49 L351.36 567.48 L351.73 567.47 L352.11 567.47 L352.48 567.46 L352.85 567.46 L353.23 567.46 L353.6 567.46 L353.97 567.46 L354.35 567.46 L354.72 567.46 L355.09 567.47 L355.47 567.47 L355.84 567.48 L356.21 567.49 L356.59 567.5 L356.96 567.51 L357.33 567.52 L357.71 567.53 L358.08 567.54 L358.45 567.56 L358.83 567.57 L359.2 567.59 L359.57 567.61 L359.95 567.63 L360.32 567.65 L360.69 567.67 L361.07 567.69 L361.44 567.71 L361.81 567.74 L362.19 567.76 L362.56 567.79 L362.93 567.82 L363.31 567.84 L363.68 567.87 L364.05 567.9 L364.43 567.93 L364.8 567.97 L365.17 568 L365.55 568.03 L365.92 568.07 L366.29 568.1 L366.67 568.14 L367.04 568.18 L367.41 568.21 L367.79 568.25 L368.16 568.29 L368.53 568.33 L368.91 568.38 L369.28 568.42 L369.65 568.46 L370.03 568.5 L370.4 568.55 L370.77 568.59 L371.15 568.64 L371.52 568.69 L371.89 568.74 L372.27 568.79 L372.64 568.83 L373.01 568.88 L373.39 568.94 L373.76 568.99 L374.13 569.04 L374.51 569.09 L374.88 569.15 L375.25 569.2 L375.63 569.26 L376 569.32 L376.37 569.37 L376.75 569.43 L377.12 569.49 L377.49 569.55 L377.87 569.61 L378.24 569.67 L378.61 569.73 L378.99 569.8 L379.36 569.86 L379.73 569.92 L380.11 569.99 L380.48 570.05 L380.85 570.12 L381.23 570.19 L381.6 570.26 L381.97 570.33 L382.35 570.4 L382.72 570.47 L383.09 570.54 L383.47 570.61 L383.84 570.68 L384.21 570.76 L384.59 570.83 L384.96 570.91 L385.33 570.99 L385.71 571.07 L386.08 571.15 L386.45 571.23 L386.83 571.31 L387.2 571.39 L387.57 571.47 L387.95 571.56 L388.32 571.64 L388.69 571.73 L389.07 571.82 L389.44 571.9 L389.81 571.99 L390.19 572.08 L390.56 572.18 L390.93 572.27 L391.31 572.37 L391.68 572.46 L392.05 572.56 L392.43 572.66 L392.8 572.76 L393.17 572.86 L393.55 572.96 L393.92 573.07 L394.29 573.17 L394.67 573.28 L395.04 573.39 L395.42 573.5 L395.79 573.61 L396.16 573.73 L396.54 573.85 L396.91 573.97 L397.28 574.09 L397.66 574.21 L398.03 574.34 L398.4 574.46 L398.78 574.6 L399.15 574.73 L399.52 574.86 L399.9 575 L400.27 575.14 L400.64 575.29 L401.02 575.44 L401.39 575.59 L401.76 575.74 L402.14 575.9 L402.51 576.06 L402.88 576.22 L403.26 576.39 L403.63 576.56 L404 576.73 L404.38 576.91 L404.75 577.09 L405.12 577.27 L405.5 577.46 L405.87 577.66 L406.24 577.86 L406.62 578.06 L406.99 578.26 L407.36 578.48 L407.74 578.69 L408.11 578.91 L408.48 579.14 L408.86 579.37 L409.23 579.61 L409.6 579.85 L409.98 580.09 L410.35 580.35 L410.72 580.6 L411.1 580.87 L411.47 581.14 L411.84 581.41 L412.22 581.69 L412.59 581.98 L412.96 582.27 L413.34 582.57 L413.71 582.88 L414.08 583.19 L414.46 583.51 L414.83 583.84 L415.2 584.17 L415.58 584.52 L415.95 584.86 L416.32 585.22 L416.7 585.58 L417.07 585.95 L417.44 586.33 L417.82 586.72 L418.19 587.11 L418.56 587.52 L418.94 587.93 L419.31 588.35 L419.68 588.77 L420.06 589.21 L420.43 589.65 L420.8 590.11 L421.18 590.57 L421.55 591.04 L421.92 591.52 L422.3 592.01 L422.67 592.51 L423.04 593.02 L423.42 593.54 L423.79 594.06 L424.16 594.6 L424.54 595.14 L424.91 595.7 L425.28 596.27 L425.66 596.84 L426.03 597.43 L426.4 598.02 L426.78 598.63 L427.15 599.24 L427.52 599.87 L427.9 600.5 L428.27 601.15 L428.64 601.81 L429.02 602.47 L429.39 603.15 L429.76 603.84 L430.14 604.53 L430.51 605.24 L430.88 605.96 L431.26 606.68 L431.63 607.42 L432 608.17 L432.38 608.93 L432.75 609.69 L433.12 610.47 L433.5 611.26 L433.87 612.06 L434.24 612.86 L434.62 613.68 L434.99 614.51 L435.36 615.34 L435.74 616.18 L436.11 617.04 L436.48 617.9 L436.86 618.77 L437.23 619.65 L437.6 620.54 L437.98 621.44 L438.35 622.34 L438.72 623.25 L439.1 624.17 L439.47 625.1 L439.84 626.04 L440.22 626.98 L440.59 627.93 L440.96 628.88 L441.34 629.84 L441.71 630.81 L442.08 631.78 L442.46 632.76 L442.83 633.74 L443.2 634.73 L443.58 635.72 L443.95 636.72 L444.32 637.72 L444.7 638.72 L445.07 639.73 L445.44 640.74 L445.82 641.75 L446.19 642.77 L446.56 643.79 L446.94 644.81 L447.31 645.83 L447.68 646.85 L448.06 647.87 L448.43 648.89 L448.8 649.91 L449.18 650.92 L449.55 651.94 L449.92 652.96 L450.3 653.97 L450.67 654.98 L451.04 655.99 L451.42 656.99 L451.79 657.99 L452.16 658.99 L452.54 659.98 L452.91 660.97 L453.28 661.95 L453.66 662.93 L454.03 663.89 L454.4 664.86 L454.78 665.81 L455.15 666.76 L455.52 667.7 L455.9 668.64 L456.27 669.56 L456.64 670.48 L457.02 671.39 L457.39 672.29 L457.76 673.18 L458.14 674.06 L458.51 674.93 L458.88 675.79 L459.26 676.64 L459.63 677.49 L460 678.32 L460.38 679.13 L460.75 679.94 L461.12 680.74 L461.5 681.52 L461.87 682.3 L462.24 683.06 L462.62 683.81 L462.99 684.55 L463.36 685.27 L463.74 685.99 L464.11 686.69 L464.48 687.38 L464.86 688.06 L465.23 688.72 L465.6 689.37 L465.98 690.01 L466.35 690.64 L466.72 691.26 L467.1 691.86 L467.47 692.45 L467.84 693.03 L468.22 693.6 L468.59 694.16 L468.96 694.7 L469.34 695.24 L469.71 695.76 L470.08 696.27 L470.46 696.77 L470.83 697.26 L471.2 697.74 L471.58 698.2 L471.95 698.66 L472.32 699.11 L472.7 699.54 L473.07 699.97 L473.44 700.38 L473.82 700.78 L474.19 701.18 L474.56 701.56 L474.94 701.94 L475.31 702.31 L475.68 702.66 L476.06 703.01 L476.43 703.35 L476.8 703.68 L477.18 704 L477.55 704.32 L477.92 704.62 L478.3 704.92 L478.67 705.21 L479.04 705.49 L479.42 705.76 L479.79 706.03 L480.16 706.29 L480.54 706.54 L480.91 706.79 L481.28 707.03 L481.66 707.26 L482.03 707.48 L482.4 707.7 L482.78 707.92 L483.15 708.12 L483.52 708.33 L483.9 708.52 L484.27 708.71 L484.64 708.9 L485.02 709.08 L485.39 709.26 L485.76 709.43 L486.14 709.59 L486.51 709.75 L486.88 709.91 L487.26 710.07 L487.63 710.21 L488.01 710.36 L488.38 710.5 L488.75 710.64 L489.13 710.77 L489.5 710.91 L489.87 711.03 L490.25 711.16 L490.62 711.28 L490.99 711.4 L491.37 711.52 L491.74 711.63 L492.11 711.74 L492.49 711.85 L492.86 711.96 L493.23 712.06 L493.61 712.17 L493.98 712.27 L494.35 712.37 L494.73 712.47 L495.1 712.56 L495.47 712.65 L495.85 712.75 L496.22 712.84 L496.59 712.93 L496.97 713.02 L497.34 713.1 L497.71 713.19 L498.09 713.27 L498.46 713.35 L498.83 713.43 L499.21 713.51 L499.58 713.59 L499.95 713.67 L500.33 713.74 L500.7 713.82 L501.07 713.89 L501.45 713.96 L501.82 714.03 L502.19 714.1 L502.57 714.17 L502.94 714.24 L503.31 714.3 L503.69 714.37 L504.06 714.43 L504.43 714.5 L504.81 714.56 L505.18 714.62 L505.55 714.68 L505.93 714.74 L506.3 714.8 L506.67 714.86 L507.05 714.92 L507.42 714.97 L507.79 715.03 L508.17 715.08 L508.54 715.13 L508.91 715.19 L509.29 715.24 L509.66 715.29 L510.03 715.34 L510.41 715.39 L510.78 715.44 L511.15 715.48 L511.53 715.53 L511.9 715.58 L512.27 715.62 L512.65 715.67 L513.02 715.71 L513.39 715.75 L513.77 715.79 L514.14 715.83 L514.51 715.87 L514.89 715.91 L515.26 715.95 L515.63 715.98 L516.01 716.02 L516.38 716.05 L516.75 716.09 L517.13 716.12 L517.5 716.15 L517.87 716.18 L518.25 716.21 L518.62 716.24 L518.99 716.27 L519.37 716.3 L519.74 716.32 L520.11 716.35 L520.49 716.37 L520.86 716.4 L521.23 716.42 L521.61 716.44 L521.98 716.46 L522.35 716.47 L522.73 716.49 L523.1 716.51 L523.47 716.52 L523.85 716.54 L524.22 716.55 L524.59 716.56 L524.97 716.57 L525.34 716.58 L525.71 716.59 L526.09 716.59 L526.46 716.6 L526.83 716.6 L527.21 716.6 L527.58 716.6 L527.95 716.6 L528.33 716.6 L528.7 716.6 L529.07 716.59 L529.45 716.58 L529.82 716.58 L530.19 716.57 L530.57 716.56 L530.94 716.54 L531.31 716.53 L531.69 716.51 L532.06 716.5 L532.43 716.48 L532.81 716.46 L533.18 716.43 L533.55 716.41 L533.93 716.39 L534.3 716.36" stroke="#0000ff" stroke-dasharray="5.6 2.9 1.5 2.4"/>
</g>
<g fill="none" stroke-width="1.7">
<path d="M459.7 536.4H494" stroke="#000"/>
<path d="M459.7 556.4H494" stroke="#ff0000" stroke-dasharray="5.3 4.2"/>
<path d="M459.7 576.65H494" stroke="#0000ff" stroke-dasharray="5.6 2.9 1.5 2.4"/>
</g>
<g font-family="'Liberation Serif', serif" fill="#000" text-rendering="geometricPrecision">
<g font-size="11.6px">
<text x="119.3" y="720.2" text-anchor="end">1.0</text>
<text x="343.4" y="720.2" text-anchor="end">1.0</text>
<text x="119.3" y="660.55" text-anchor="end">1.5</text>
<text x="343.4" y="660.55" text-anchor="end">1.5</text>
<text x="119.3" y="600.9" text-anchor="end">2.0</text>
<text x="343.4" y="600.9" text-anchor="end">2.0</text>
<text x="119.3" y="541.25" text-anchor="end">2.5</text>
<text x="343.4" y="541.25" text-anchor="end">2.5</text>
<text x="119.3" y="481.6" text-anchor="end">3.0</text>
<text x="343.4" y="481.6" text-anchor="end">3.0</text>
<text x="124.3" y="730.9" text-anchor="middle">0.0</text>
<text x="170.88" y="730.9" text-anchor="middle">0.5</text>
<text x="217.45" y="730.9" text-anchor="middle">1.0</text>
<text x="264.03" y="730.9" text-anchor="middle">1.5</text>
<text x="310.6" y="730.9" text-anchor="middle">2.0</text>
<text x="348" y="730.9" text-anchor="middle">0.1</text>
<text x="441.15" y="730.9" text-anchor="middle">1</text>
<text x="534.3" y="730.9" text-anchor="middle">10</text>
</g>
<g font-size="14.7px">
<text x="143.85" y="504.6">γ=0.02</text>
<text x="246.15" y="504.4">(a) κ = 3</text>
<text x="145.6" y="596.9" fill="#ff0000">γ=1</text>
<text x="144.8" y="704.5" fill="#0000ff">γ=50</text>
<text x="474.4" y="503.9">(b) γ = 1</text>
<text x="497.3" y="541.6" fill="#0000ff">κ=2</text>
<text x="497.3" y="561.5" fill="#ff0000">κ=4</text>
<text x="497.3" y="581.2" fill="#0000ff">κ=6</text>
<text x="218.5" y="745" text-anchor="middle" font-style="italic">x</text>
<text x="441.5" y="745" text-anchor="middle" font-style="italic">x</text>
<text transform="translate(98.8 616) rotate(-90)">2π<tspan font-style="italic">g</tspan>(<tspan font-style="italic">x</tspan>)</text>
</g>
</g>
</svg>
</body></html>
